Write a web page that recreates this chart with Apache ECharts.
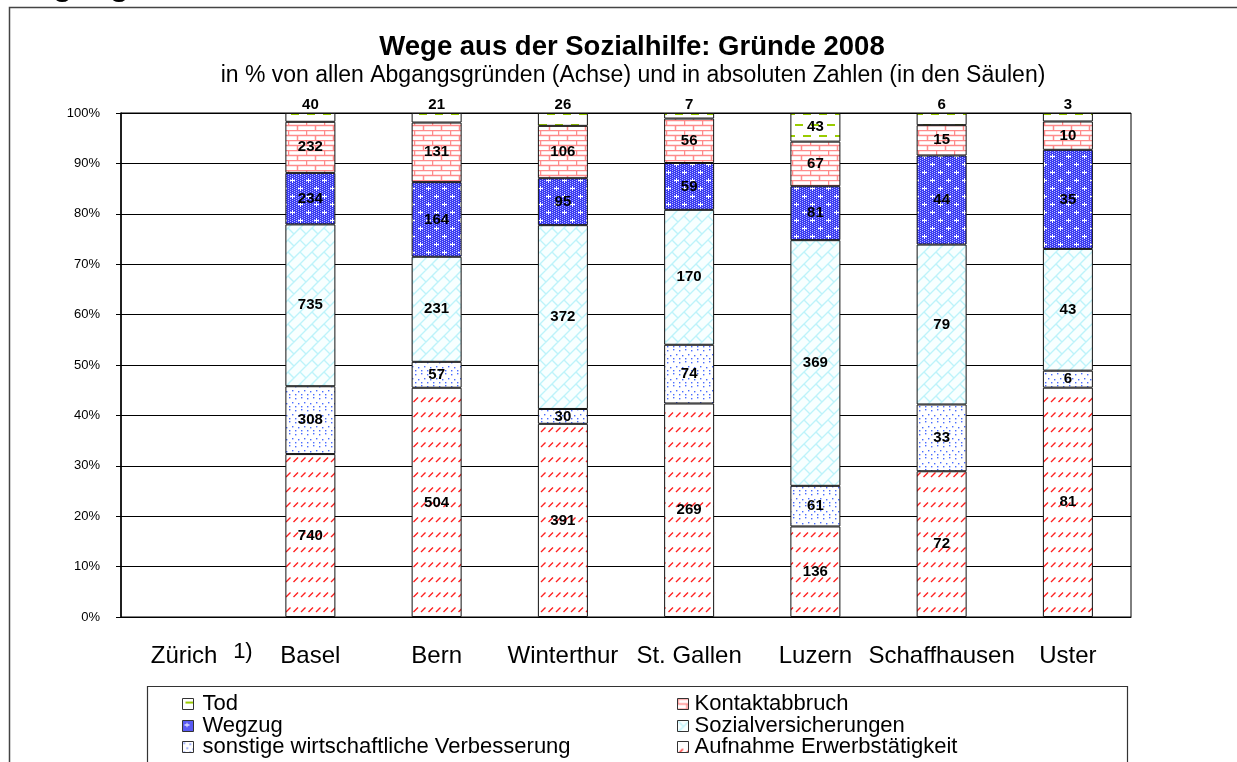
<!DOCTYPE html>
<html>
<head>
<meta charset="utf-8">
<script src="https://cdn.jsdelivr.net/npm/echarts@6/dist/echarts.min.js"></script>
<style>
  html, body { margin: 0; padding: 0; background: #fff; }
  #chart { width: 1237px; height: 762px; }
</style>
</head>
<body>
<div id="chart"></div>
<script>
// Cities (Zürich has no figures for 2008, footnote 1)
const cities = ['Zürich', 'Basel', 'Bern', 'Winterthur', 'St. Gallen', 'Luzern', 'Schaffhausen', 'Uster'];

// Absolute numbers of cases closed, per reason
const erwerb     = [null, 740, 504, 391, 269, 136, 72, 81];   // Aufnahme Erwerbstätigkeit
const sonstige   = [null, 308, 57, 30, 74, 61, 33, 6];        // sonstige wirtschaftliche Verbesserung
const sozialvers = [null, 735, 231, 372, 170, 369, 79, 43];   // Sozialversicherungen
const wegzug     = [null, 234, 164, 95, 59, 81, 44, 35];      // Wegzug
const kontakt    = [null, 232, 131, 106, 56, 67, 15, 10];     // Kontaktabbruch
const tod        = [null, 40, 21, 26, 7, 43, 6, 3];           // Tod

const yTicks = [0, 10, 20, 30, 40, 50, 60, 70, 80, 90, 100];

const FONT = '"Liberation Sans", Arial, sans-serif';

// ---- fill patterns ----------------------------------------------------
function pattern(w, h, draw) {
  const c = document.createElement('canvas');
  c.width = w; c.height = h;
  const g = c.getContext('2d');
  draw(g, w, h);
  return { image: c, repeat: 'repeat' };
}

// short red upward dashes
const patErwerb = pattern(15, 15, (g) => {
  g.fillStyle = '#fff'; g.fillRect(0, 0, 15, 15);
  g.strokeStyle = '#ff2020'; g.lineWidth = 1.4;
  g.beginPath();
  g.moveTo(1, 12); g.lineTo(5.5, 7.5);
  g.moveTo(8.5, 12); g.lineTo(13, 7.5);
  g.stroke();
});

// scattered blue dots
const patSonstige = pattern(12, 12, (g) => {
  g.fillStyle = '#fff'; g.fillRect(0, 0, 12, 12);
  g.fillStyle = '#4a6cff';
  [[1, 1], [7, 2], [4, 6], [10, 7], [1, 10], [7, 10]].forEach(([x, y]) => {
    g.fillRect(x, y, 1.4, 1.4);
  });
});

// light cyan diagonal bricks
const patSozial = pattern(24, 24, (g) => {
  g.fillStyle = '#f8ffff'; g.fillRect(0, 0, 24, 24);
  g.strokeStyle = '#bdf3fa'; g.lineWidth = 1.4;
  g.beginPath();
  for (let c = -48; c <= 72; c += 12) {
    g.moveTo(c - 24, 48); g.lineTo(c + 48, -24);
  }
  for (let c = -48; c <= 72; c += 12) {
    const off = ((((c / 12) % 2) + 2) % 2) * 12;
    for (let d = -72 + off; d <= 72; d += 24) {
      g.moveTo((c + d) / 2, (c - d) / 2);
      g.lineTo((c + 12 + d) / 2, (c + 12 - d) / 2);
    }
  }
  g.stroke();
});

// blue with a fine light mesh and white crosses
const patWegzug = pattern(16, 16, (g) => {
  g.fillStyle = '#3a3af2'; g.fillRect(0, 0, 16, 16);
  g.fillStyle = 'rgba(215,220,255,0.8)';
  for (let x = 0; x < 16; x += 2) {
    for (let y = (x / 2) % 2; y < 16; y += 2) { g.fillRect(x, y, 1, 1); }
  }
  g.fillStyle = '#fff';
  [[4, 4], [12, 12]].forEach(([x, y]) => {
    g.fillRect(x - 2, y, 5, 1); g.fillRect(x, y - 2, 1, 5);
  });
});

// pink bricks
const patKontakt = pattern(18, 10, (g) => {
  g.fillStyle = '#fff'; g.fillRect(0, 0, 18, 10);
  g.strokeStyle = '#ff8a8a'; g.lineWidth = 1.5;
  g.beginPath();
  g.moveTo(0, 0.5); g.lineTo(18, 0.5);
  g.moveTo(0, 5.5); g.lineTo(18, 5.5);
  g.moveTo(0.5, 0); g.lineTo(0.5, 5.5);
  g.moveTo(9.5, 5.5); g.lineTo(9.5, 10);
  g.stroke();
});

// green dashes
const patTod = pattern(16, 22, (g) => {
  g.fillStyle = '#fff'; g.fillRect(0, 0, 16, 22);
  g.strokeStyle = '#99cc00'; g.lineWidth = 2;
  g.beginPath();
  g.moveTo(3, 4); g.lineTo(11, 4);
  g.moveTo(11, 15); g.lineTo(19, 15);
  g.moveTo(-5, 15); g.lineTo(3, 15);
  g.stroke();
});

// ---- shares per city ----------------------------------------------------
const groups = [erwerb, sonstige, sozialvers, wegzug, kontakt, tod];
const totals = cities.map((_, i) => groups.reduce((s, arr) => s + (arr[i] || 0), 0));

function shares(arr, isTop) {
  return arr.map((v, i) => {
    if (v == null) return null;
    const pct = v / totals[i] * 100;
    const item = { value: pct };
    if (isTop) {
      item.label = pct < 3 ? { position: 'top', distance: 1 } : { position: 'inside' };
    }
    return item;
  });
}

function series(name, arr, pat, isTop) {
  return {
    name: name,
    type: 'bar',
    stack: 'gruende',
    barWidth: 50,
    data: shares(arr, isTop),
    itemStyle: { color: pat, borderColor: '#111', borderWidth: 1 },
    label: {
      show: true,
      position: 'inside',
      formatter: (p) => String(arr[p.dataIndex]),
      color: '#000',
      fontFamily: FONT,
      fontWeight: 'bold',
      fontSize: 15
    },
    emphasis: { disabled: true }
  };
}

// one legend entry per block, laid out in two columns of three rows
const legendCols = [
  { x: 182, pad: 4, names: ['Tod', 'Wegzug', 'sonstige wirtschaftliche Verbesserung'] },
  { x: 677, pad: 1, names: ['Kontaktabbruch', 'Sozialversicherungen', 'Aufnahme Erwerbstätigkeit'] }
];
const legendRowTops = [693, 715, 736];
const legends = [];
legendCols.forEach((col) => {
  col.names.forEach((name, r) => {
    legends.push({
      left: col.x, top: legendRowTops[r], padding: 0,
      icon: 'rect', itemWidth: 11, itemHeight: 11,
      data: [name],
      textStyle: { fontFamily: FONT, fontSize: 22, color: '#000', lineHeight: 22, padding: [0, 0, 0, col.pad] },
      itemStyle: { borderColor: '#333', borderWidth: 1 },
      selectedMode: false
    });
  });
});

const chart = echarts.init(document.getElementById('chart'), null, { renderer: 'canvas' });

chart.setOption({
  backgroundColor: '#fff',
  animation: false,
  title: [
    {
      text: 'Wege aus der Sozialhilfe: Gründe 2008',
      left: 627, top: 28, textAlign: 'center',
      textStyle: { fontFamily: FONT, fontSize: 27.5, fontWeight: 'bold', color: '#000' }
    },
    {
      text: 'in % von allen Abgangsgründen (Achse) und in absoluten Zahlen (in den Säulen)',
      left: 628, top: 59, textAlign: 'center',
      textStyle: { fontFamily: FONT, fontSize: 23, fontWeight: 'normal', color: '#000' }
    }
  ],
  grid: { left: 121, right: 106, top: 113, bottom: 145, show: true, borderColor: '#000', borderWidth: 1, backgroundColor: 'transparent' },
  legend: legends,
  xAxis: {
    type: 'category',
    data: cities,
    axisLine: { lineStyle: { color: '#000', width: 1 } },
    axisTick: { length: 7, lineStyle: { color: '#000' } },
    axisLabel: { margin: 27, fontFamily: FONT, fontSize: 24, color: '#000', interval: 0 }
  },
  yAxis: {
    type: 'value',
    min: 0, max: 100, interval: 10,
    axisLine: { show: true, lineStyle: { color: '#000', width: 1.5 } },
    axisTick: { show: true, length: 5, lineStyle: { color: '#000' } },
    axisLabel: {
      margin: 21, fontFamily: FONT, fontSize: 13, color: '#000',
      formatter: (v) => yTicks.includes(v) ? v + '%' : ''
    },
    splitLine: { lineStyle: { color: '#000', width: 1 } }
  },
  series: [
    series('Aufnahme Erwerbstätigkeit', erwerb, patErwerb),
    series('sonstige wirtschaftliche Verbesserung', sonstige, patSonstige),
    series('Sozialversicherungen', sozialvers, patSozial),
    series('Wegzug', wegzug, patWegzug),
    series('Kontaktabbruch', kontakt, patKontakt),
    series('Tod', tod, patTod, true)
  ]
});

// frame, legend box, page heading and footnote marker
const zx = chart.convertToPixel({ xAxisIndex: 0 }, 'Zürich');
chart.setOption({
  graphic: [
    {
      type: 'rect', silent: true, z: -1,
      shape: { x: 9.5, y: 7.5, width: 1300, height: 900 },
      style: { fill: null, stroke: '#444', lineWidth: 1.5 }
    },
    {
      type: 'rect', silent: true, z: -1,
      shape: { x: 147.5, y: 686.5, width: 980, height: 200 },
      style: { fill: null, stroke: '#333', lineWidth: 1.2 }
    },
    {
      type: 'text', silent: true,
      style: { x: 10, y: -30, text: 'Abgänge', font: 'bold 32px ' + FONT, fill: '#000', textVerticalAlign: 'top' }
    },
    {
      type: 'text', silent: true,
      style: { x: zx + 49, y: 641, text: '1)', font: '22px ' + FONT, fill: '#000', textVerticalAlign: 'top' }
    }
  ]
});
</script>
</body>
</html>
